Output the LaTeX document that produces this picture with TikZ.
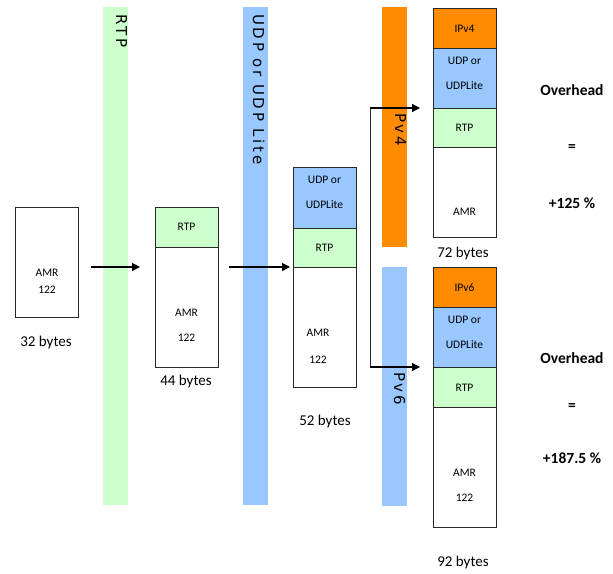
\documentclass[tikz,border=0pt]{standalone}
\usepackage{fontspec}
\setmainfont{Carlito}
\newfontfamily\bandfont[LetterSpace=18]{DejaVu Sans}
\usetikzlibrary{arrows.meta}
\definecolor{rtpgreen}{RGB}{204,255,204}
\definecolor{udpblue}{RGB}{153,199,255}
\definecolor{iporange}{RGB}{255,140,0}
\definecolor{edgegray}{RGB}{40,40,40}
\begin{document}
\begin{tikzpicture}[x=1pt,y=-1pt,
  seg/.style={draw=edgegray, line width=0.9pt, minimum width=63pt, anchor=north west, inner sep=0pt},
  band/.style={anchor=north west, inner sep=0pt, minimum width=25pt},
  bandtxt/.style={rotate=-90, anchor=base west, inner sep=0pt, font=\bandfont\fontsize{15}{18}\selectfont},
  boxtxt/.style={inner sep=0pt, align=center, font=\fontsize{11.5}{25}\selectfont},
  bytes/.style={inner sep=0pt, font=\fontsize{15}{18}\selectfont},
  ovh/.style={inner sep=0pt, font=\bfseries\fontsize{15.5}{18}\selectfont},
  arr/.style={line width=1.2pt, -{Triangle[length=8pt,width=8pt]}},
  fork/.style={draw=edgegray, line width=0.8pt}]
\useasboundingbox (0,0) rectangle (613,573);

% bands
\node[band, fill=rtpgreen, minimum height=498pt] (brtp) at (103,7) {};
\node[band, fill=udpblue, minimum height=498pt] (budp) at (243,7) {};
\node[band, fill=iporange, minimum height=240pt] (bv4) at (382,7) {};
\node[band, fill=udpblue, minimum height=239pt] (bv6) at (382,267) {};
\node[bandtxt] (lrtp) at (116,14) {RTP};
\node[bandtxt] (ludp) at (253,14) {UDP or UDP Lite};
\node[bandtxt] (lv4) at (395,113) {Pv4};
\node[bandtxt] (lv6) at (394,372) {Pv6};

% box 1
\node[seg, minimum height=110pt] (b1) at (15,207) {};
\node[boxtxt, font=\fontsize{11.5}{17}\selectfont] (t1) at (47,281) {AMR\\122};
\node[bytes] (y1) at (46,342) {32 bytes};

% box 2
\node[seg, fill=rtpgreen, minimum height=40pt] (b2r) at (155,207) {};
\node[seg, minimum height=120pt] (b2a) at (155,247) {};
\node[boxtxt] (t2r) at (186.5,227) {RTP};
\node[boxtxt] (t2a) at (186.5,325) {AMR\\122};
\node[bytes] (y2) at (186,381) {44 bytes};

% box 3
\node[seg, fill=udpblue, minimum height=61pt] (b3u) at (293,167) {};
\node[seg, fill=rtpgreen, minimum height=39pt] (b3r) at (293,228) {};
\node[seg, minimum height=120pt] (b3a) at (293,267) {};
\node[boxtxt] (t3u) at (324.5,192) {UDP or\\UDPLite};
\node[boxtxt] (t3r) at (324.5,248) {RTP};
\node[boxtxt, font=\fontsize{11.5}{27}\selectfont] (t3a) at (318,346) {AMR\\122};
\node[bytes] (y3) at (325,421) {52 bytes};

% box 4
\node[seg, fill=iporange, minimum height=40pt] (b4i) at (433,8) {};
\node[seg, fill=udpblue, minimum height=60pt] (b4u) at (433,48) {};
\node[seg, fill=rtpgreen, minimum height=39pt] (b4r) at (433,108) {};
\node[seg, minimum height=90pt] (b4a) at (433,147) {};
\node[boxtxt] (t4i) at (464.5,29) {IPv4};
\node[boxtxt] (t4u) at (464.5,73) {UDP or\\UDPLite};
\node[boxtxt] (t4r) at (464.5,128) {RTP};
\node[boxtxt] (t4a) at (464.5,212) {AMR};
\node[bytes] (y4) at (463,253) {72 bytes};

% box 5
\node[seg, fill=iporange, minimum height=40pt] (b5i) at (433,267) {};
\node[seg, fill=udpblue, minimum height=60pt] (b5u) at (433,307) {};
\node[seg, fill=rtpgreen, minimum height=40pt] (b5r) at (433,367) {};
\node[seg, minimum height=120pt] (b5a) at (433,407) {};
\node[boxtxt] (t5i) at (464.5,288) {IPv6};
\node[boxtxt] (t5u) at (464.5,332) {UDP or\\UDPLite};
\node[boxtxt] (t5r) at (464.5,388) {RTP};
\node[boxtxt] (t5a) at (464.5,485.5) {AMR\\122};
\node[bytes] (y5) at (463,562) {92 bytes};

% overhead
\node[ovh] (o1) at (572,90) {Overhead};
\node[ovh] (o1e) at (572,148) {=};
\node[ovh] (o1v) at (572,203) {+125 \%};
\node[ovh] (o2) at (572,358) {Overhead};
\node[ovh] (o2e) at (572,407) {=};
\node[ovh] (o2v) at (572,458) {+187.5 \%};

% connectors
\coordinate (a1s) at (91,267);
\coordinate (a1e) at (140,267);
\coordinate (a2s) at (229,267);
\coordinate (a2e) at (290,267);
\coordinate (ftop) at (370,108);
\coordinate (fbot) at (370,367);
\coordinate (f4e) at (420,108);
\coordinate (f6e) at (420,367);
\draw[arr] (a1s) -- (a1e);
\draw[arr] (a2s) -- (a2e);
\draw[fork] (ftop) -- (fbot);
\draw[arr] (ftop) -- (f4e);
\draw[arr] (fbot) -- (f6e);
\end{tikzpicture}
\end{document}
